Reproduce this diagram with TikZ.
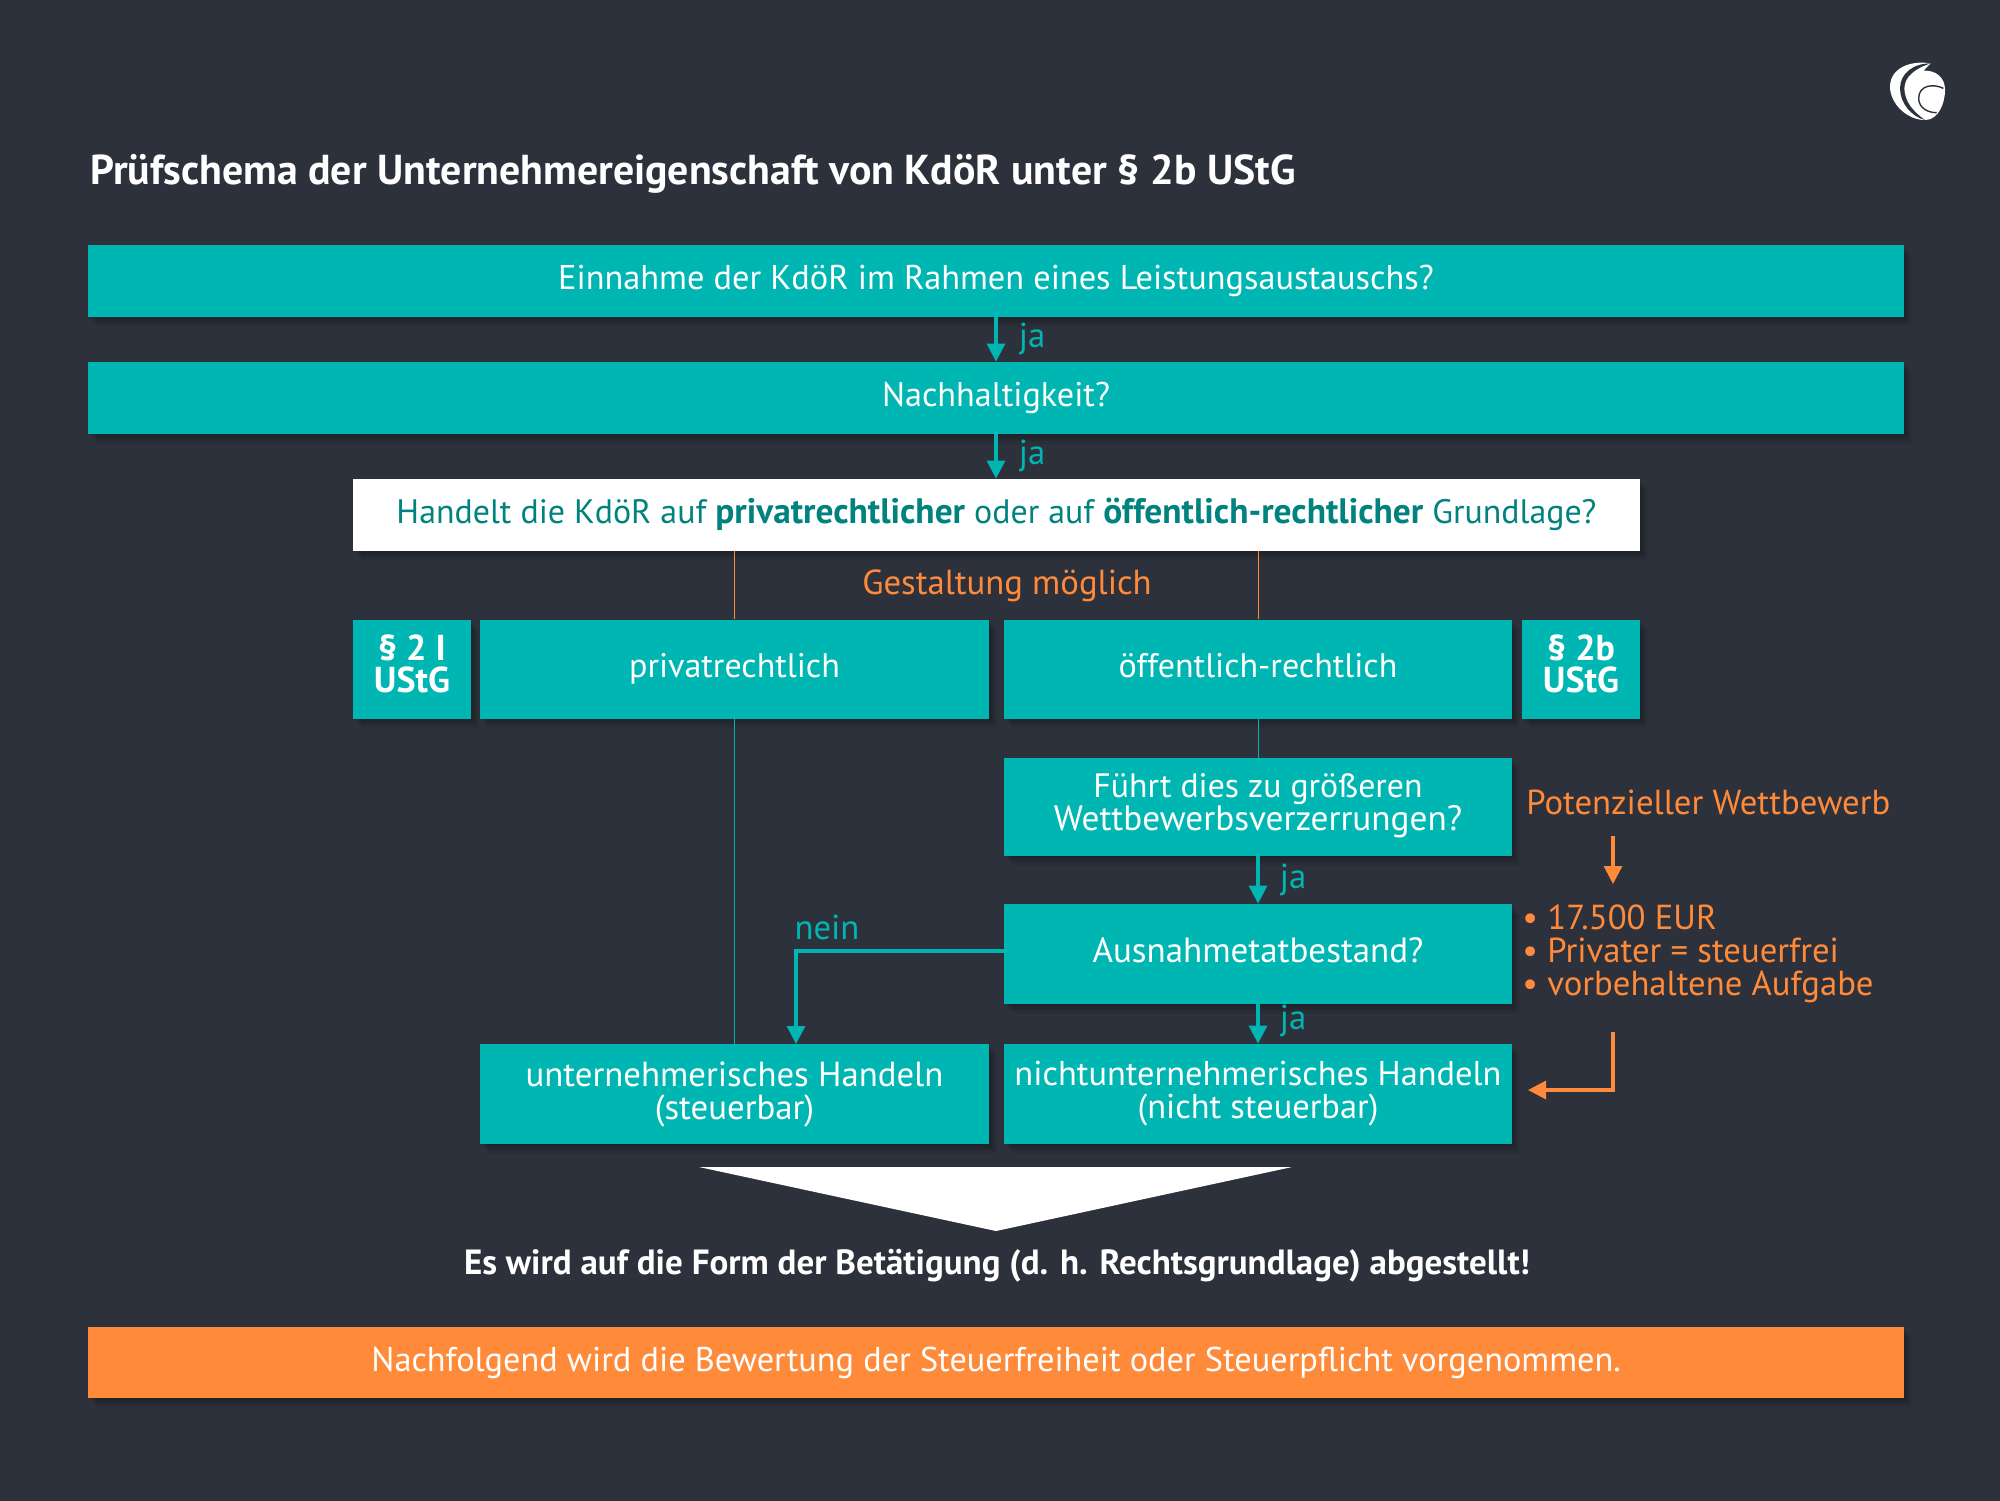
\documentclass[tikz,border=0pt]{standalone}
\usepackage{fontspec}
\setmainfont{PT Sans}
\usetikzlibrary{shadows,arrows.meta}
\definecolor{bgc}{HTML}{2D313B}
\definecolor{tealc}{HTML}{00B6B2}
\definecolor{darkt}{HTML}{00827E}
\definecolor{orc}{HTML}{FF8A3A}
\newcommand{\strongpart}[1]{{\fontsize{17.68}{16.5}\selectfont\bfseries #1}}
\tikzset{
  softshadow/.style={
    general shadow={fill=black,opacity=.08,shadow xshift=1pt,shadow yshift=-1.2pt},
    general shadow={fill=black,opacity=.08,shadow xshift=2pt,shadow yshift=-2.4pt},
    general shadow={fill=black,opacity=.07,shadow xshift=3pt,shadow yshift=-3.6pt},
    general shadow={fill=black,opacity=.05,shadow xshift=4pt,shadow yshift=-4.8pt}},
  fs/.style={font=\fontsize{#1}{16.5}\selectfont},
  box/.style={softshadow,fill=tealc,text=white,align=center,inner sep=0pt,fs=17},
  tealflow/.style={draw=tealc,line width=1.6pt,-{Triangle[length=9pt,width=9pt]}},
  orflow/.style={draw=orc,line width=1.6pt,-{Triangle[length=9pt,width=9pt]}},
  thinor/.style={draw=orc,line width=.4pt},
  thinte/.style={draw=tealc,line width=.4pt},
  lab/.style={inner sep=0pt,fs=17.35},
  parag/.style={font=\fontsize{18}{16}\selectfont\bfseries},
}
\begin{document}
\begin{tikzpicture}[x=0.5pt,y=-0.5pt]
\useasboundingbox (0,0) rectangle (2000,1500);
\fill[bgc] (-5,-5) rectangle (2005,1505);

% logo
\begin{scope}[shift={(1860,40)},x=0.1667pt,y=-0.1667pt]
\fill[white] (212,70) .. controls (150,60) and (90,85) .. (90,140) .. controls (90,190) and (140,240) .. (195,240) .. controls (235,240) and (255,190) .. (255,150) .. controls (255,110) and (225,90) .. (190,92) -- cycle;
\fill[bgc] (212,70) .. controls (160,70) and (120,100) .. (120,145) .. controls (120,190) and (155,230) .. (195,240) .. controls (160,215) and (133,185) .. (133,145) .. controls (133,110) and (165,85) .. (212,70) -- cycle;
\draw[bgc,line width=.7pt] (250,145) .. controls (220,130) and (176,135) .. (176,175) .. controls (176,205) and (205,218) .. (230,218);
\end{scope}

\node[lab,anchor=west,text=white,font=\fontsize{20.9}{22}\selectfont\bfseries] (title) at (90,174) {Prüfschema der Unternehmereigenschaft von KdöR unter § 2b UStG};

\node[box,fs=17.17,minimum width=908pt,minimum height=36pt] (t1) at (996,281) {Einnahme der KdöR im Rahmen eines Leistungsaustauschs?};
\node[box,fs=17.1,minimum width=908pt,minimum height=36pt] (t2) at (996,398) {Nachhaltigkeit?};
\node[box,fs=16.95,fill=white,text=darkt,minimum width=643.5pt,minimum height=36pt] (w) at (996.5,515) {Handelt die KdöR auf \strongpart{privatrechtlicher} oder auf \strongpart{öffentlich-rechtlicher} Grundlage?\rule[-4.6pt]{0pt}{4.6pt}};

% thin lines behind the boxes
\coordinate (wl) at (734.5,551);
\coordinate (wr) at (1258,551);
\node[box,parag,minimum width=59pt,minimum height=49.5pt] (s21) at (412,669) {§ 2 I\\UStG\rule[-5pt]{0pt}{5pt}};
\node[box,minimum width=254.5pt,minimum height=49.5pt] (pr) at (734.5,669) {privatrechtlich};
\node[box,minimum width=254pt,minimum height=49.5pt] (oe) at (1258,669) {\vphantom{g}öffentlich-rechtlich};
\node[box,parag,minimum width=59pt,minimum height=49.5pt] (s2b) at (1581,669) {§ 2b\\UStG\rule[-5pt]{0pt}{5pt}};
\node[box,fs=17.6,minimum width=254pt,minimum height=49pt] (fu) at (1258,807) {{\fontsize{16.9}{16.5}\selectfont Führt dies zu größeren}\\Wettbewerbsverzerrungen?\rule[-5pt]{0pt}{5pt}};
\node[box,fs=17.5,minimum width=254pt,minimum height=50pt] (au) at (1258,954) {\vphantom{g}Ausnahmetatbestand?};
\node[box,fs=17.2,minimum width=254pt,minimum height=50pt] (ni) at (1258,1094) {nichtunternehmerisches Handeln\\(nicht steuerbar)};
\node[box,fs=17.4,minimum width=254.5pt,minimum height=50pt] (un) at (734.5,1094) {unternehmerisches Handeln\\(steuerbar)};
\node[box,fs=17.15,fill=orc,minimum width=908pt,minimum height=35.5pt] (o) at (996,1362.5) {Nachfolgend wird die Bewertung der Steuerfreiheit oder Steuerpflicht vorgenommen.};

\draw[thinor] (wl) -- (pr.north);
\draw[thinor] (wr) -- (oe.north);
\draw[thinte] (pr.south) -- (un.north);
\draw[thinte] (oe.south) -- (fu.north);

\draw[tealflow] (t1) -- (t2);
\draw[tealflow] (t2) -- (t2 |- w.north);
\draw[tealflow] (fu) -- (au);
\draw[tealflow] (au) -- (ni);
\coordinate (nn) at (796,1044);
\draw[tealflow] ([yshift=1.5pt]au.west) -| (nn);

\node[lab,text=tealc] (ja1) at (1032,339) {ja};
\node[lab,text=tealc] (ja2) at (1032,456) {ja};
\node[lab,text=tealc] (ja3) at (1293,880) {ja};
\node[lab,text=tealc] (ja4) at (1293,1021) {ja};
\node[lab,text=tealc] (nein) at (827,927) {nein};

\node[lab,text=orc] (ge) at (1007,586) {Gestaltung möglich};
\node[lab,text=orc,anchor=west] (po) at (1526,802) {Potenzieller Wettbewerb};
\node[lab,text=orc,anchor=west,align=left] (li) at (1522,954) {• 17.500 EUR\\• Privater = steuerfrei\\• vorbehaltene Aufgabe};

\coordinate (a1) at (1613,836);
\coordinate (a2) at (1613,884);
\coordinate (b1) at (1613,1032);
\coordinate (b2) at (1528,1090);
\draw[orflow] (a1) -- (a2);
\draw[orflow] (b1) |- (b2);

\fill[white] (699,1167) -- (1292,1167) -- (996,1231) -- cycle;
\node[lab,text=white,font=\fontsize{17.5}{17}\selectfont\bfseries] (es) at (997,1266) {Es wird auf die Form der Betätigung (d. h. Rechtsgrundlage) abgestellt!};
\end{tikzpicture}
\end{document}
